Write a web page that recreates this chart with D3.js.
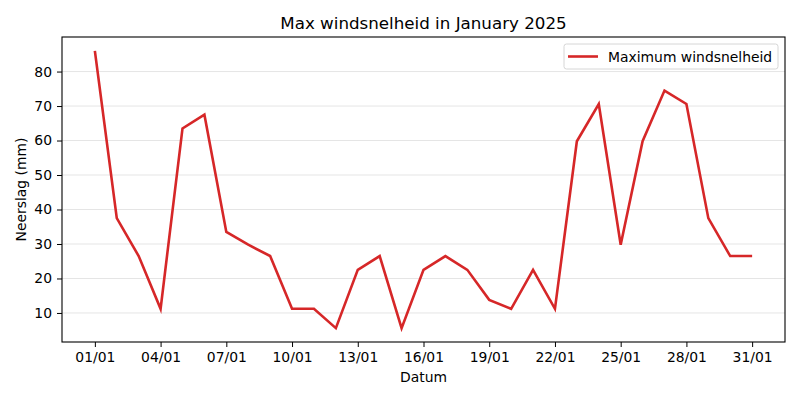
<!DOCTYPE html>
<html lang="nl">
<head>
  <meta charset="UTF-8">
  <title>Max windsnelheid</title>
  <script src="https://d3js.org/d3.v7.min.js"></script>
  <style>
    body { margin: 0; background: #fff; }
    text { font-family: "DejaVu Sans", sans-serif; fill: #000; }
  </style>
</head>
<body>
  <div id="chart"></div>
  <script>
    // dagen van januari 2025 en gemeten maximum windsnelheid
    var days = d3.range(1, 32);
    var windMax = [86, 37.5, 26.5, 11.2, 63.5, 67.5, 33.5, 29.8, 26.5, 11.2,
                   11.2, 5.6, 22.5, 26.5, 5.6, 22.5, 26.5, 22.5, 13.8, 11.2,
                   22.5, 11.2, 59.8, 70.6, 29.8, 59.8, 74.5, 70.6, 37.5, 26.5, 26.5];
    var xTickDays = [1, 4, 7, 10, 13, 16, 19, 22, 25, 28, 31];
    var yTicks = [10, 20, 30, 40, 50, 60, 70, 80];

    var width = 800, height = 400;
    var margin = { left: 62, top: 37, right: 15, bottom: 58 };
    var w = width - margin.left - margin.right;
    var h = height - margin.top - margin.bottom;

    var svg = d3.select("#chart").append("svg")
      .attr("width", width)
      .attr("height", height);

    var g = svg.append("g")
      .attr("transform", "translate(" + margin.left + "," + margin.top + ")");

    // matplotlib-achtige marge van 5%
    var yMin = d3.min(windMax), yMax = d3.max(windMax);
    var yPad = (yMax - yMin) * 0.05;
    var x = d3.scaleLinear().domain([1 - 1.5, 31 + 1.5]).range([0, w]);
    var y = d3.scaleLinear().domain([yMin - yPad, yMax + yPad]).range([h, 0]);

    // rasterlijnen
    g.selectAll(".grid")
      .data(yTicks)
      .enter().append("line")
      .attr("x1", 0).attr("x2", w)
      .attr("y1", function (d) { return y(d); })
      .attr("y2", function (d) { return y(d); })
      .attr("stroke", "#e5e5e5")
      .attr("stroke-width", 1);

    var xAxis = d3.axisBottom(x)
      .tickValues(xTickDays)
      .tickSize(5)
      .tickPadding(5)
      .tickFormat(function (d) { return d3.format("02d")(d) + "/01"; });
    var yAxis = d3.axisLeft(y)
      .tickValues(yTicks)
      .tickSize(5)
      .tickPadding(5);

    var gx = g.append("g").attr("transform", "translate(0," + h + ")").call(xAxis);
    var gy = g.append("g").call(yAxis);
    [gx, gy].forEach(function (a) {
      a.select(".domain").remove();
      a.selectAll(".tick line").attr("stroke", "#000").attr("stroke-width", 1);
      a.selectAll(".tick text").attr("font-size", 13.9).attr("fill", "#000")
        .style("font-family", "DejaVu Sans");
    });

    var line = d3.line()
      .x(function (d, i) { return x(days[i]); })
      .y(function (d) { return y(d); });

    g.append("path")
      .datum(windMax)
      .attr("fill", "none")
      .attr("stroke", "#d62728")
      .attr("stroke-width", 2.6)
      .attr("stroke-linejoin", "miter")
      .attr("d", line);

    // kader
    g.append("rect")
      .attr("width", w).attr("height", h)
      .attr("fill", "none")
      .attr("stroke", "#000")
      .attr("stroke-width", 1.1);

    // titel en aslabels
    svg.append("text")
      .attr("x", margin.left + w / 2).attr("y", 29)
      .attr("text-anchor", "middle")
      .attr("font-size", 16.7)
      .text("Max windsnelheid in January 2025");

    svg.append("text")
      .attr("x", margin.left + w / 2).attr("y", 382)
      .attr("text-anchor", "middle")
      .attr("font-size", 13.9)
      .text("Datum");

    svg.append("text")
      .attr("transform", "translate(26," + (margin.top + h / 2) + ") rotate(-90)")
      .attr("text-anchor", "middle")
      .attr("font-size", 13.9)
      .text("Neerslag (mm)");

    // legenda
    var leg = g.append("g").attr("transform", "translate(" + (w - 221) + ",7)");
    leg.append("rect")
      .attr("width", 214).attr("height", 25)
      .attr("rx", 2.5)
      .attr("fill", "#fff").attr("fill-opacity", 0.8)
      .attr("stroke", "#d6d6d6");
    leg.append("line")
      .attr("x1", 4).attr("x2", 34)
      .attr("y1", 12.5).attr("y2", 12.5)
      .attr("stroke", "#d62728").attr("stroke-width", 2.6);
    leg.append("text")
      .attr("x", 44).attr("y", 17.5)
      .attr("font-size", 13.9)
      .text("Maximum windsnelheid");
  </script>
</body>
</html>
